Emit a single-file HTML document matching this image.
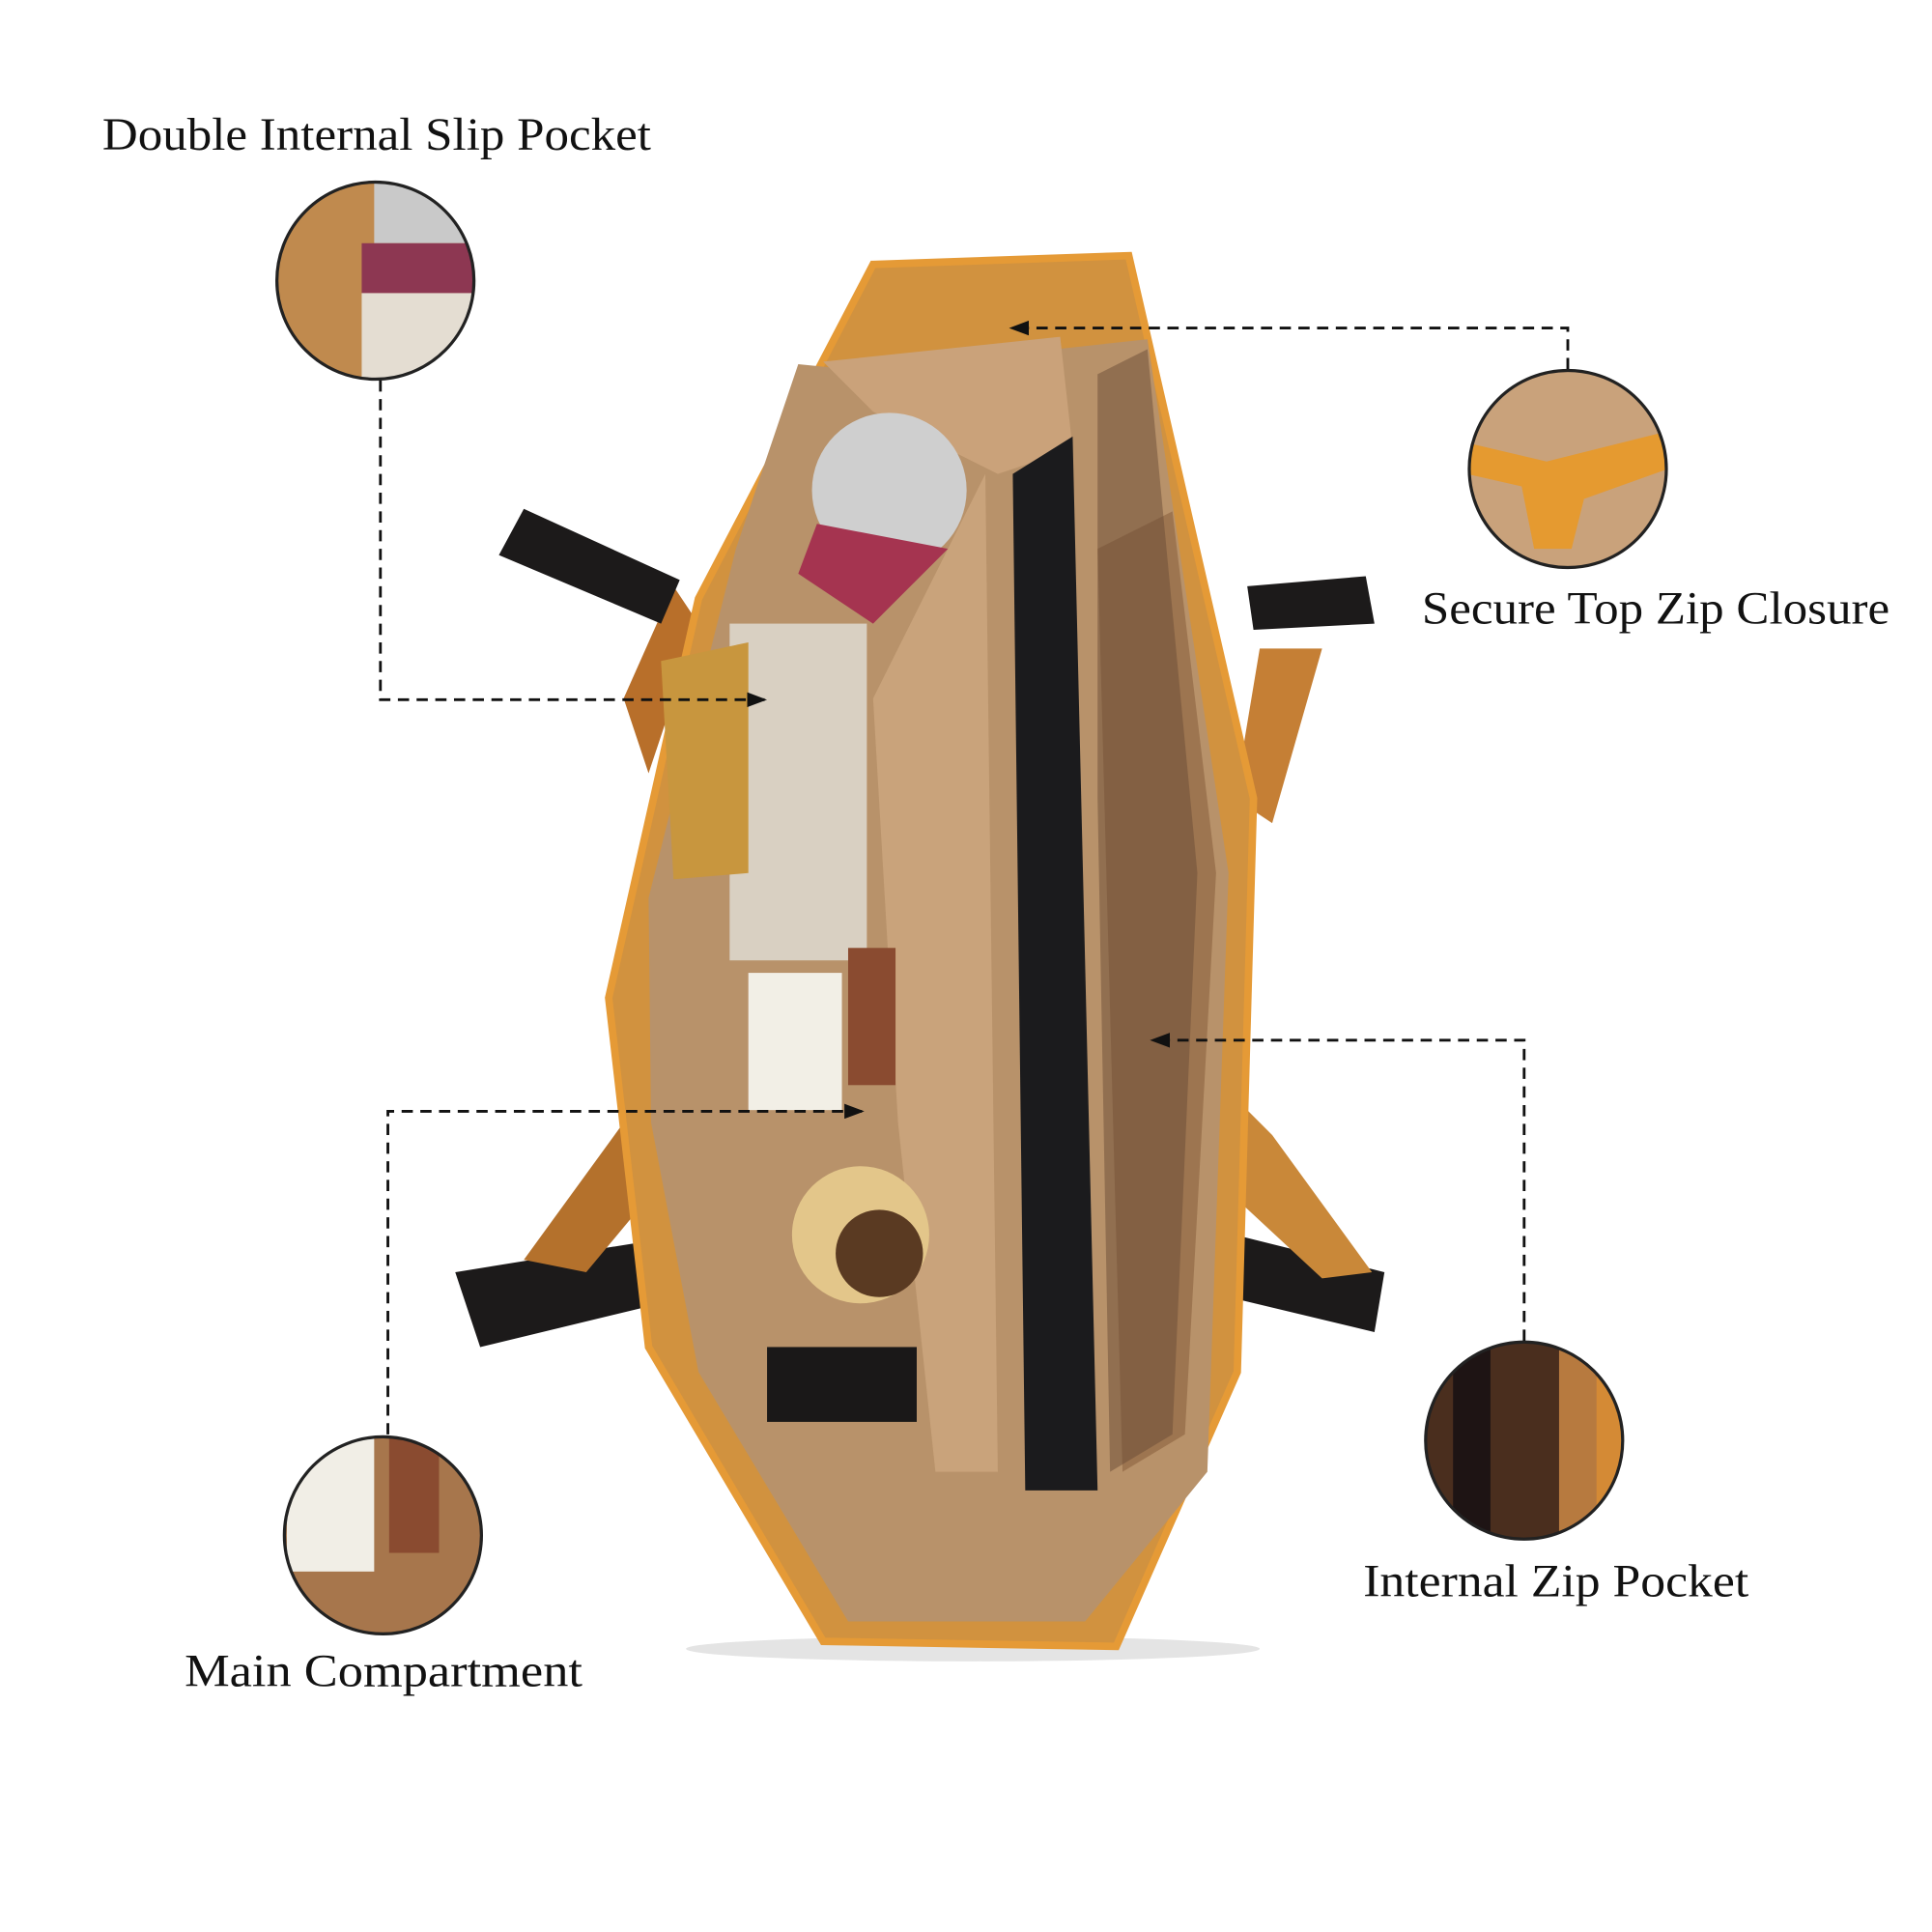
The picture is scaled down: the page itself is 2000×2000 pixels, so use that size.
<!DOCTYPE html>
<html><head><meta charset="utf-8"><style>
html,body{margin:0;padding:0;background:#fff;}
svg{display:block;}
text{font-family:"Liberation Serif",serif;font-size:37px;fill:#111;}
</style></head><body>
<svg width="2000" height="2000" viewBox="0 0 1549 1549" xmlns="http://www.w3.org/2000/svg">
<defs>
<marker id="ar" markerWidth="16" markerHeight="12" refX="15" refY="6" orient="auto" markerUnits="userSpaceOnUse"><path d="M0,0 L16,6 L0,12 z" fill="#111"/></marker>
<clipPath id="c1"><circle cx="301" cy="225" r="79"/></clipPath>
<clipPath id="c2"><circle cx="1257" cy="376" r="79"/></clipPath>
<clipPath id="c3"><circle cx="307" cy="1231" r="79"/></clipPath>
<clipPath id="c4"><circle cx="1222" cy="1155" r="79"/></clipPath>
</defs>
<rect width="1549" height="1549" fill="#fff"/>
<ellipse cx="780" cy="1322" rx="230" ry="10" fill="#e4e4e4"/>
<path d="M500,560 L540,470 L560,500 L520,620 Z" fill="#b86f2a"/>
<path d="M400,445 L420,408 L545,465 L530,500 Z" fill="#1c1a1a"/>
<path d="M1000,470 L1095,462 L1102,500 L1005,505 Z" fill="#1c1a1a"/>
<path d="M1010,520 L1060,520 L1020,660 L990,640 Z" fill="#c57f35"/>
<path d="M365,1020 L520,995 L530,1045 L385,1080 Z" fill="#1c1a1a"/>
<path d="M990,990 L1110,1020 L1102,1068 L985,1040 Z" fill="#1c1a1a"/>
<path d="M990,880 L1020,910 L1100,1020 L1060,1025 L990,960 Z" fill="#c98839"/>
<path d="M420,1010 L500,900 L520,960 L470,1020 Z" fill="#b4712c"/>
<path d="M700,212 L905,205 L1005,640 L992,1100 L895,1320 L660,1316 L520,1080 L488,800 L560,480 Z" fill="#d1923f"/>
<path d="M700,212 L905,205 L1005,640 L992,1100 L895,1320 L660,1316 L520,1080 L488,800 L560,480 Z" fill="none" stroke="#e59a36" stroke-width="6"/>
<path d="M640,292 L720,300 L800,285 L920,272 L985,700 L968,1180 L870,1300 L680,1300 L560,1100 L522,900 L520,720 L590,440 Z" fill="#b8926a"/>
<path d="M660,290 L850,270 L860,360 L800,380 L700,330 Z" fill="#caa27a"/>
<path d="M700,560 L790,380 L800,1180 L750,1180 L720,900 Z" fill="#c9a37b"/>
<path d="M880,440 L940,410 L975,700 L950,1150 L900,1180 Z" fill="#9d7550"/>
<path d="M880,300 L920,280 L960,700 L940,1150 L890,1180 L880,640 Z" fill="#6a4b35" opacity=".5"/>
<path d="M812,380 L860,350 L880,1195 L822,1195 Z" fill="#1b1b1d"/>
<circle cx="713" cy="393" r="62" fill="#cfcfcf"/>
<path d="M655,420 L760,440 L700,500 L640,460 Z" fill="#a53450"/>
<rect x="585" y="500" width="110" height="270" fill="#d9d0c2"/>
<rect x="600" y="780" width="75" height="110" fill="#f2efe6"/>
<path d="M530,530 L600,515 L600,700 L540,705 Z" fill="#c8963e"/>
<rect x="680" y="760" width="38" height="110" fill="#8a4b30"/>
<circle cx="690" cy="990" r="55" fill="#e3c68a"/>
<circle cx="705" cy="1005" r="35" fill="#5a3a22"/>
<rect x="615" y="1080" width="120" height="60" fill="#1a1818"/>
<g clip-path="url(#c1)"><rect x="220" y="145" width="165" height="165" fill="#c08a4e"/><rect x="300" y="145" width="90" height="50" fill="#c9c9c9"/><rect x="290" y="195" width="100" height="40" fill="#8d3752"/><rect x="290" y="235" width="100" height="75" fill="#e4ddd2"/></g>
<circle cx="301" cy="225" r="79" fill="none" stroke="#222" stroke-width="2.5"/>
<g clip-path="url(#c2)"><rect x="1176" y="296" width="165" height="165" fill="#c9a27b"/><path d="M1176,355 L1240,370 L1340,345 L1340,375 L1270,400 L1260,440 L1230,440 L1220,390 L1176,380 Z" fill="#e59a30"/></g>
<circle cx="1257" cy="376" r="79" fill="none" stroke="#222" stroke-width="2.5"/>
<g clip-path="url(#c3)"><rect x="226" y="1150" width="165" height="165" fill="#a7764c"/><rect x="230" y="1150" width="70" height="110" fill="#f1eee6"/><rect x="312" y="1150" width="40" height="95" fill="#8a4b30"/></g>
<circle cx="307" cy="1231" r="79" fill="none" stroke="#222" stroke-width="2.5"/>
<g clip-path="url(#c4)"><rect x="1141" y="1074" width="165" height="165" fill="#4a2e1e"/><rect x="1165" y="1074" width="30" height="165" fill="#1e1414"/><rect x="1250" y="1074" width="50" height="165" fill="#b77a3f"/><rect x="1280" y="1074" width="25" height="165" fill="#d48a35"/></g>
<circle cx="1222" cy="1155" r="79" fill="none" stroke="#222" stroke-width="2.5"/>
<g fill="none" stroke="#111" stroke-width="2.2" stroke-dasharray="9,6">
<path d="M305,305 L305,561 L614,561" marker-end="url(#ar)"/>
<path d="M1257,296 L1257,263 L810,263" marker-end="url(#ar)"/>
<path d="M311,1150 L311,891 L692,891" marker-end="url(#ar)"/>
<path d="M1222,1075 L1222,834 L923,834" marker-end="url(#ar)"/>
</g>
<text x="82" y="120" textLength="440" lengthAdjust="spacingAndGlyphs">Double Internal Slip Pocket</text>
<text x="1140" y="500" textLength="375" lengthAdjust="spacingAndGlyphs">Secure Top Zip Closure</text>
<text x="1093" y="1280" textLength="309" lengthAdjust="spacingAndGlyphs">Internal Zip Pocket</text>
<text x="148" y="1352" textLength="319" lengthAdjust="spacingAndGlyphs">Main Compartment</text>
</svg>
</body></html>
